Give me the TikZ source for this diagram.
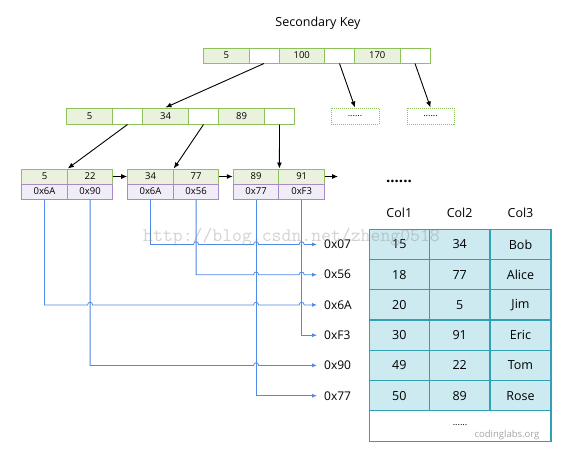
\documentclass[tikz,border=0pt]{standalone}
\usepackage{fontspec}
\setmainfont{Open Sans}
\usetikzlibrary{arrows.meta}
\definecolor{gborder}{HTML}{8DC15B}
\definecolor{gfill}{HTML}{EAF2DE}
\definecolor{pborder}{HTML}{A88BC6}
\definecolor{pfill}{HTML}{F1EDF6}
\definecolor{bline}{HTML}{4F8AE6}
\definecolor{tborder}{HTML}{31A0B2}
\definecolor{tfill}{HTML}{CDEAF0}
\begin{document}
\begin{tikzpicture}[x=1pt,y=-1pt,
  cellbase/.style={line width=1pt, inner sep=0pt, font=\fontsize{9.5}{11}\selectfont},
  keyc/.style={cellbase, draw=gborder, fill=gfill, minimum width=45.5pt, minimum height=15pt},
  ptrc/.style={cellbase, draw=gborder, fill=white, minimum width=30pt, minimum height=15pt},
  lkey/.style={cellbase, draw=gborder, fill=gfill, minimum width=45.6pt, minimum height=15pt},
  laddr/.style={cellbase, draw=pborder, fill=pfill, minimum width=45.6pt, minimum height=15pt},
  dotbox/.style={cellbase, draw=gborder, densely dotted, fill=white, minimum height=16pt, font=\fontsize{9}{10}\selectfont},
  tarrow/.style={line width=0.9pt, -{Latex[length=6pt,width=5pt]}},
  barrow/.style={draw=bline, line width=0.8pt, -{Latex[length=5pt,width=4pt]}},
  addrlbl/.style={anchor=west, inner ysep=0pt, inner xsep=7pt, font=\fontsize{12}{14}\selectfont},
  tcell/.style={draw=tborder, fill=tfill, line width=1.1pt, minimum height=30.25pt, inner sep=0pt, font=\fontsize{12.5}{14}\selectfont},
  thead/.style={inner sep=0pt, font=\fontsize{12.5}{14}\selectfont}]
\useasboundingbox (0,0) rectangle (572,453);
\fill[white] (0,0) rectangle (572,453);

\node[font=\fontsize{12.5}{15}\selectfont] (title) at (318,23) {Secondary Key};

% root
\node[keyc] (r1) at (226.25,55.5) {5};
\node[ptrc] (r2) at (264,55.5) {};
\node[keyc] (r3) at (301.75,55.5) {100};
\node[ptrc] (r4) at (339.5,55.5) {};
\node[keyc] (r5) at (377.25,55.5) {170};
\node[ptrc] (r6) at (415,55.5) {};

% level 2
\node[keyc, minimum width=46pt, minimum height=16pt] (a1) at (89.5,116) {5};
\node[ptrc, minimum height=16pt] (a2) at (127.5,116) {};
\node[keyc, minimum width=46pt, minimum height=16pt] (a3) at (165.5,116) {34};
\node[ptrc, minimum height=16pt] (a4) at (203.5,116) {};
\node[keyc, minimum width=46pt, minimum height=16pt] (a5) at (241.5,116) {89};
\node[ptrc, minimum height=16pt] (a6) at (279.5,116) {};

\node[dotbox, minimum width=48pt] (d1) at (355,116) {......};
\node[dotbox, minimum width=47pt] (d2) at (430.5,116) {......};

% leaves
\node[lkey] (k11) at (44.5,176.5) {5};
\node[lkey] (k12) at (90.1,176.5) {22};
\node[laddr] (p11) at (44.5,191.5) {0x6A};
\node[laddr] (p12) at (90.1,191.5) {0x90};

\node[lkey] (k21) at (150.5,176.5) {34};
\node[lkey] (k22) at (196.1,176.5) {77};
\node[laddr] (p21) at (150.5,191.5) {0x6A};
\node[laddr] (p22) at (196.1,191.5) {0x56};

\node[lkey] (k31) at (256.1,176.5) {89};
\node[lkey] (k32) at (301.7,176.5) {91};
\node[laddr] (p31) at (256.1,191.5) {0x77};
\node[laddr] (p32) at (301.7,191.5) {0xF3};

\coordinate (lend) at (338,176.5);

% tree arrows
\draw[tarrow] (r2.south) -- (a3.north);
\draw[tarrow] (r4.south) -- (d1.north);
\draw[tarrow] (r6.south) -- (d2.north);
\draw[tarrow] (a2.south) -- (k11.north east);
\draw[tarrow] (a4.south) -- (k21.north east);
\draw[tarrow] (a6.south) -- (k31.north east);
\draw[tarrow] (k12.east) -- (k21.west);
\draw[tarrow] (k22.east) -- (k31.west);
\draw[tarrow] (k32.east) -- (lend);

% address labels
\node[addrlbl] (l07) at (317,244.4) {0x07};
\node[addrlbl] (l56) at (317,274.7) {0x56};
\node[addrlbl] (l6A) at (317,304.9) {0x6A};
\node[addrlbl] (lF3) at (317,335.2) {0xF3};
\node[addrlbl] (l90) at (317,365.4) {0x90};
\node[addrlbl] (l77) at (317,395.7) {0x77};

% blue pointer lines with hops
\draw[barrow] (p21.south) -- (150.5,244.4)
  -- (193.6,244.4) .. controls (193.6,240.9) and (198.6,240.9) .. (198.6,244.4)
  -- (253.6,244.4) .. controls (253.6,240.9) and (258.6,240.9) .. (258.6,244.4)
  -- (299.2,244.4) .. controls (299.2,240.9) and (304.2,240.9) .. (304.2,244.4)
  -- (l07.west);
\draw[barrow] (p22.south) -- (196.1,274.7)
  -- (253.6,274.7) .. controls (253.6,271.2) and (258.6,271.2) .. (258.6,274.7)
  -- (299.2,274.7) .. controls (299.2,271.2) and (304.2,271.2) .. (304.2,274.7)
  -- (l56.west);
\draw[barrow] (p11.south) -- (44.5,304.9)
  -- (87.6,304.9) .. controls (87.6,301.4) and (92.6,301.4) .. (92.6,304.9)
  -- (253.6,304.9) .. controls (253.6,301.4) and (258.6,301.4) .. (258.6,304.9)
  -- (299.2,304.9) .. controls (299.2,301.4) and (304.2,301.4) .. (304.2,304.9)
  -- (l6A.west);
\draw[barrow] (p32.south) -- (301.7,335.2) -- (lF3.west);
\draw[barrow] (p12.south) -- (90.1,365.4)
  -- (253.6,365.4) .. controls (253.6,361.9) and (258.6,361.9) .. (258.6,365.4)
  -- (l90.west);
\draw[barrow] (p31.south) -- (256.1,395.7) -- (l77.west);

% table
\node[font=\bfseries\fontsize{15}{16}\selectfont] (dots) at (399,181) {......};
\node[thead] (h1) at (399.3,213) {Col1};
\node[thead] (h2) at (459.65,213) {Col2};
\node[thead] (h3) at (520.5,213) {Col3};

\node[tcell, minimum width=60pt] (c11) at (399.3,244.4) {15};
\node[tcell, minimum width=60.7pt] (c12) at (459.65,244.4) {34};
\node[tcell, minimum width=61pt] (c13) at (520.5,244.4) {Bob};
\node[tcell, minimum width=60pt] (c21) at (399.3,274.7) {18};
\node[tcell, minimum width=60.7pt] (c22) at (459.65,274.7) {77};
\node[tcell, minimum width=61pt] (c23) at (520.5,274.7) {Alice};
\node[tcell, minimum width=60pt] (c31) at (399.3,304.9) {20};
\node[tcell, minimum width=60.7pt] (c32) at (459.65,304.9) {5};
\node[tcell, minimum width=61pt] (c33) at (520.5,304.9) {Jim};
\node[tcell, minimum width=60pt] (c41) at (399.3,335.2) {30};
\node[tcell, minimum width=60.7pt] (c42) at (459.65,335.2) {91};
\node[tcell, minimum width=61pt] (c43) at (520.5,335.2) {Eric};
\node[tcell, minimum width=60pt] (c51) at (399.3,365.4) {49};
\node[tcell, minimum width=60.7pt] (c52) at (459.65,365.4) {22};
\node[tcell, minimum width=61pt] (c53) at (520.5,365.4) {Tom};
\node[tcell, minimum width=60pt] (c61) at (399.3,395.7) {50};
\node[tcell, minimum width=60.7pt] (c62) at (459.65,395.7) {89};
\node[tcell, minimum width=61pt] (c63) at (520.5,395.7) {Rose};
\node[tcell, fill=white, minimum width=181.7pt] (clast) at (460.15,425.95) {};
\node[font=\fontsize{9}{10}\selectfont, inner sep=0pt] (ldots) at (460,425) {......};
\node[font=\fontsize{9.5}{11}\selectfont, text=gray!70, inner sep=0pt] (wm2) at (507,435) {codinglabs.org};

% watermark
\node[anchor=base west, inner sep=0pt, font=\ttfamily\fontsize{19.2}{21}\selectfont, text=gray, text opacity=0.35] (wm1) at (143,241.7) {http://blog.csdn.net/zheng0518};
\end{tikzpicture}
\end{document}
